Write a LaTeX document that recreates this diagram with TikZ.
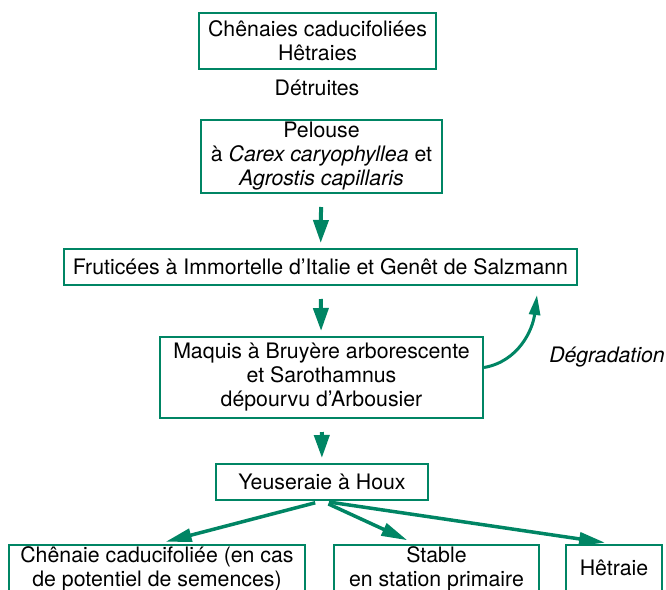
\documentclass[tikz,border=0pt]{standalone}
\usepackage{fontspec}
\setmainfont{TeX Gyre Heros}
\usetikzlibrary{arrows.meta}
\definecolor{vert}{RGB}{0,133,100}
\begin{document}
\begin{tikzpicture}[x=1pt, y=-1pt, font=\fontsize{21.3}{24}\selectfont]
    % Styles
    \tikzstyle{stade} = [rectangle, draw=vert, line width=2pt, align=center,
        inner sep=2pt]
    \tikzstyle{fleche} = [draw=vert, line width=4pt,
        -{Triangle[length=23pt,width=15pt]}, shorten <=13pt, shorten >=5pt]
    \tikzstyle{issue} = [draw=vert, line width=3.5pt,
        -{Triangle[length=26pt,width=13pt]}, shorten <=7pt, shorten >=9pt]
    \tikzstyle{retour} = [draw=vert, line width=3pt,
        -{Triangle[length=20pt,width=11pt]}]

    \useasboundingbox (0,0) rectangle (666,589);
    \clip (0,0) rectangle (666,589);

    % === MAIN SUCCESSION ===
    \node [stade, minimum width=237pt, minimum height=56pt] (chenaies) at (317.5,41)
        {Chênaies caducifoliées\\Hêtraies};
    \node [anchor=base] (detruites) at (317,95) {Détruites};
    \node [stade, minimum width=241pt, minimum height=73pt] (pelouse) at (321.5,156.5)
        {Pelouse\\à \textit{Carex caryophyllea} et\\\textit{Agrostis capillaris}};
    \node [stade, minimum width=513pt, minimum height=36pt] (fruticees) at (320.5,267)
        {Fruticées à Immortelle d’Italie et Genêt de Salzmann};
    \node [stade, minimum width=323pt, minimum height=81pt] (maquis) at (321.5,377.5)
        {Maquis à Bruyère arborescente\\et Sarothamnus\\dépourvu d’Arbousier};
    \node [stade, minimum width=212pt, minimum height=36pt] (yeuseraie) at (322,482)
        {Yeuseraie à Houx};

    % === OUTCOMES ===
    \node [stade, anchor=north, minimum width=296pt, minimum height=46pt] (chenaie) at (157,544)
        {Chênaie caducifoliée (en cas\\de potentiel de semences)};
    \node [stade, anchor=north, minimum width=205pt, minimum height=46pt] (stable) at (436.5,544)
        {Stable\\en station primaire};
    \node [stade, anchor=north, minimum width=96pt, minimum height=46pt] (hetraie) at (614,544)
        {Hêtraie};

    % === Degradation ===
    \coordinate (degtip) at (537,295);
    \node [anchor=base, font=\fontsize{21.3}{24}\selectfont\itshape] (degradation) at (607,362)
        {Dégradation};

    % === ARROWS ===
    \draw [fleche] (pelouse) -- (fruticees);
    \draw [fleche] (fruticees) -- (maquis);
    \draw [fleche] (maquis) -- (yeuseraie);
    \draw [issue] (yeuseraie.south) -- (chenaie.north);
    \draw [issue] (yeuseraie.south) -- ([xshift=-21pt]stable.north);
    \draw [issue] (yeuseraie.south) -- (hetraie.north);
    \draw [retour] ([yshift=10pt]maquis.east) to[out=10, in=-97] (degtip);

\end{tikzpicture}
\end{document}
